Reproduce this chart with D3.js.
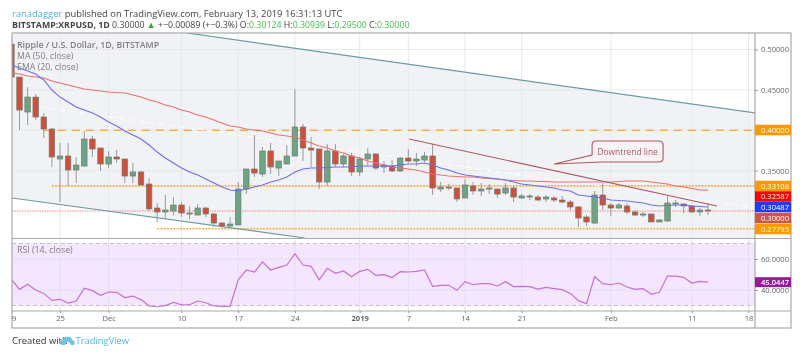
<!DOCTYPE html>
<html>
<head>
<meta charset="utf-8">
<script src="https://cdn.jsdelivr.net/npm/d3@7/dist/d3.min.js"></script>
<style>
html,body{margin:0;padding:0;background:#fff;}
svg{display:block;font-family:"Open Sans",sans-serif;filter:blur(0.3px);}
</style>
</head>
<body>
<div id="Canvas"></div>
<script>
// daily candles, Nov 19 2018 = day 0
let opens = [.5067,.4659,.4226,.4411,.4164,.4015,.3644,.3681,.3508,.3557,.3891,.3780,.3582,.3669,.3644,.3433,.3483,.3334,.3037,.2988,.3000,.3074,.2975,.2950,.3037,.2963,.2851,.2814,.2827,.3272,.3520,.3458,.3743,.3532,.3582,.3681,.4040,.3780,.3768,.3359,.3743,.3582,.3681,.3483,.3644,.3706,.3545,.3557,.3495,.3656,.3619,.3631,.3681,.3272,.3297,.3285,.3161,.3310,.3248,.3272,.3272,.3223,.3285,.3161,.3173,.3173,.3149,.3161,.3136,.3111,.3050,.2926,.2851,.3198,.3074,.3037,.3062,.2988,.2950,.2963,.2864,.2876,.3087,.3087,.3062,.2988,.30124]
let highs = [.5067,.4659,.4535,.4448,.4213,.4028,.3842,.3842,.3669,.3990,.3929,.3780,.3743,.3755,.3644,.3594,.3495,.3409,.3099,.3198,.3173,.3111,.3062,.3087,.3050,.2975,.2864,.2926,.3359,.3520,.3941,.3792,.3842,.3619,.3817,.4510,.4077,.3916,.3768,.3829,.3829,.3706,.3718,.3669,.3780,.3718,.3619,.3631,.3669,.3768,.3718,.3730,.3829,.3359,.3334,.3285,.3396,.3359,.3347,.3334,.3272,.3347,.3310,.3210,.3210,.3198,.3198,.3186,.3186,.3136,.3062,.2950,.3248,.3347,.3099,.3099,.3099,.3012,.2988,.2963,.2901,.3186,.3136,.3087,.3074,.3037,.30939]
let lows = [.4659,.4003,.4065,.4127,.3904,.3545,.3111,.3310,.3347,.3557,.3669,.3495,.3532,.3594,.3347,.3347,.3322,.3000,.2864,.2901,.2950,.2926,.2901,.2950,.2926,.2802,.2790,.2802,.2827,.3210,.3421,.3421,.3458,.3433,.3582,.3681,.3619,.3545,.3272,.3310,.3545,.3545,.3433,.3433,.3557,.3508,.3470,.3483,.3483,.3594,.3557,.3607,.3198,.3235,.3260,.3111,.3161,.3198,.3186,.3210,.3161,.3198,.3111,.3149,.3136,.3124,.3111,.3111,.3099,.3012,.2802,.2814,.2839,.3012,.2938,.3025,.2963,.2938,.2926,.2864,.2864,.2864,.3050,.2975,.2975,.2938,.29500]
let closes = [.4659,.4250,.4411,.4164,.4015,.3669,.3681,.3508,.3569,.3891,.3768,.3582,.3669,.3644,.3433,.3483,.3322,.3025,.2988,.3012,.3074,.2975,.2963,.3037,.2963,.2851,.2814,.2839,.3272,.3520,.3470,.3743,.3545,.3619,.3681,.4040,.3780,.3755,.3359,.3743,.3582,.3681,.3483,.3644,.3706,.3532,.3569,.3495,.3656,.3619,.3644,.3681,.3285,.3297,.3285,.3149,.3322,.3248,.3272,.3285,.3210,.3285,.3173,.3186,.3186,.3136,.3173,.3136,.3111,.3050,.2913,.2864,.3198,.3074,.3037,.3074,.2988,.2950,.2963,.2864,.2889,.3099,.3099,.3062,.2988,.3012,.30000]
let ma50 = [.4708,.4696,.4671,.4659,.4647,.4609,.4585,.4560,.4535,.4510,.4498,.4486,.4473,.4467,.4461,.4436,.4411,.4374,.4349,.4312,.4288,.4250,.4226,.4188,.4164,.4127,.4089,.4052,.4040,.4015,.4003,.3990,.3966,.3941,.3929,.3916,.3879,.3842,.3805,.3780,.3743,.3718,.3681,.3656,.3619,.3594,.3569,.3545,.3532,.3520,.3508,.3483,.3458,.3446,.3433,.3427,.3421,.3421,.3409,.3402,.3396,.3384,.3378,.3371,.3371,.3365,.3365,.3359,.3359,.3359,.3359,.3359,.3359,.3359,.3359,.3365,.3371,.3371,.3371,.3359,.3347,.3334,.3310,.3297,.3279,.3260,.32587]
let ema20 = [.4807,.4770,.4733,.4696,.4622,.4498,.4411,.4349,.4288,.4250,.4213,.4164,.4102,.4052,.3990,.3941,.3891,.3817,.3730,.3656,.3594,.3532,.3483,.3446,.3396,.3347,.3297,.3260,.3248,.3272,.3297,.3322,.3359,.3384,.3421,.3483,.3520,.3532,.3532,.3539,.3545,.3545,.3545,.3557,.3557,.3557,.3557,.3557,.3569,.3582,.3582,.3594,.3569,.3532,.3508,.3470,.3446,.3433,.3421,.3409,.3396,.3384,.3359,.3334,.3322,.3310,.3297,.3285,.3260,.3248,.3198,.3186,.3173,.3161,.3136,.3130,.3124,.3111,.3099,.3074,.3062,.3068,.3074,.3074,.3062,.3056,.30487]
let rsi = [46.9,40.4,43.7,40,37.8,33.3,34,31.6,32.9,41.1,39.6,36.6,38.7,38.5,35.1,36.1,33.8,29.7,29.2,29.9,32,30.5,30.5,32.9,31.8,29.7,29.5,29.5,46.5,52.9,51.6,58.1,52.9,54.6,56.1,63.4,56.1,55.3,46.5,54,50.8,52.3,48.6,52,53.3,49.5,49.9,48,51.8,51.6,52,52.9,42.4,43,43,39.8,45.4,43.4,44.1,44.1,42.6,45.4,42.2,42.4,42.2,40.6,41.7,40.9,40.2,37.8,33.1,31.2,48.6,44.1,43.4,44.5,41.9,40.4,40.9,37.2,38.5,49,49,48.2,44.5,45.6,45.0447]

let tickDays = [0,6,12,21,28,35,43,49,56,63,74,84,91]
let tickLabels = ["19","25","Dec","10","17","24","2019","7","14","21","Feb","11","18"]
let priceTicks = [.5,.45,.4,.35]
let rsiTicks = [60,40]
let rsiBand = [30,70]

// drawn levels and trend lines [day, price]
let level40 = .4, level331 = .33108, level278 = .27795, levelLast = .3
let channelTop = [[21.68,.5204],[91.9,.4213]]
let channelBottom = [[0.07,.3161],[36.2,.2666]]
let channelMid = [[3.5,.4288],[91.9,.3037]]
let downtrend = [[49.1,.3891],[87.1,.3062]]
let calloutTip = [67,.3582]

let tagTexts = ["0.40000","0.33108","0.32587","0.30487","0.30000","0.27795"]
let tagColors = ["#ff9800","#ff9800","#ff0000","#1e3cff","#cf5546","#ff9800"]
let tagRows = [130,186,196.5,207,218,229]

const L = 12, R = 755, END = 791, T = 33, B = 238.5, RT = 239.5, RB = 311, AB = 328

let svg = d3.select("#Canvas").append("svg").attr("width",800).attr("height",352)

let xScale = d3.scaleLinear().domain([0,91]).range([11.4,748.5])
let yScale = d3.scaleLinear().domain([.3,.5]).range([211,49.5])
let rsiScale = d3.scaleLinear().domain([40,60]).range([290,259])

svg.append("defs").append("clipPath").attr("id","mainClip")
    .append("rect").attr("x",L).attr("y",T).attr("width",R-L).attr("height",B-T)
svg.select("defs").append("clipPath").attr("id","rsiClip")
    .append("rect").attr("x",L).attr("y",RT).attr("width",R-L).attr("height",RB-RT)
svg.select("defs").append("clipPath").attr("id","timeClip")
    .append("rect").attr("x",L).attr("y",RB).attr("width",END-L).attr("height",AB-RB)

let main = svg.append("g").attr("clip-path","url(#mainClip)")
let lower = svg.append("g").attr("clip-path","url(#rsiClip)")

// channel fill, white outside of the channel
let pt = d=>[xScale(d[0]),yScale(d[1])]
let topA = pt(channelTop[0]), topB = pt(channelTop[1]), botA = pt(channelBottom[0]), botB = pt(channelBottom[1])
main.append("path")
    .attr("d",d3.line()([[L,T],topA,topB,[R,B],botB,botA]))
    .attr("fill","#f0f2f5")

// grid
main.selectAll(".vgrid").data(tickDays).enter().append("line")
    .attr("x1",d=>xScale(d)).attr("x2",d=>xScale(d)).attr("y1",T).attr("y2",B)
    .attr("stroke","#e6e8eb").attr("stroke-width",1)
main.selectAll(".hgrid").data(priceTicks).enter().append("line")
    .attr("x1",L).attr("x2",R).attr("y1",d=>yScale(d)).attr("y2",d=>yScale(d))
    .attr("stroke","#e6e8eb").attr("stroke-width",1)

// levels
let levelLine = (g,price,startDay,color,w,dash)=>g.append("line")
    .attr("x1",startDay==null?L:xScale(startDay)).attr("x2",R)
    .attr("y1",yScale(price)).attr("y2",yScale(price))
    .attr("stroke",color).attr("stroke-width",w).attr("stroke-dasharray",dash)
levelLine(main,levelLast,null,"#ee8a86",1,"1.5,1")
levelLine(main,level40,4,"#f9ae45",1.6,"8,6")
levelLine(main,level331,5,"#f9ae45",1.6,"2,1.2")
levelLine(main,level278,18,"#f9ae45",1.6,"2,1.2")

// channel lines
let trend = d3.line().x(d=>xScale(d[0])).y(d=>yScale(d[1]))
main.append("path").datum(channelMid).attr("d",trend).attr("fill","none")
    .attr("stroke","#fff").attr("stroke-width",1).attr("stroke-dasharray","6,4")
main.selectAll(".channel").data([channelTop,channelBottom]).enter().append("path")
    .attr("d",trend).attr("fill","none").attr("stroke","#6d9ba3").attr("stroke-width",1.2)

// candles
let days = d3.range(closes.length)
let upColor = "#6ba583", downColor = "#d04f3a"
main.selectAll(".wick").data(days).enter().append("line")
    .attr("x1",i=>xScale(i)).attr("x2",i=>xScale(i))
    .attr("y1",i=>yScale(highs[i])).attr("y2",i=>yScale(lows[i]))
    .attr("stroke","#999").attr("stroke-width",1)
main.selectAll(".body").data(days).enter().append("rect")
    .attr("x",i=>xScale(i)-2.75).attr("width",5.5)
    .attr("y",i=>yScale(Math.max(opens[i],closes[i])))
    .attr("height",i=>Math.max(1,Math.abs(yScale(opens[i])-yScale(closes[i]))))
    .attr("fill",i=>closes[i]>=opens[i]?upColor:downColor)
    .attr("stroke","#77796f").attr("stroke-width",.7)

// MA / EMA
let avgLine = d3.line().x((d,i)=>xScale(i)).y(d=>yScale(d))
main.append("path").attr("d",avgLine(ma50)).attr("fill","none").attr("stroke","#f26d6d").attr("stroke-width",1.1)
main.append("path").attr("d",avgLine(ema20)).attr("fill","none").attr("stroke","#6a6ff0").attr("stroke-width",1.1)

// downtrend line and callout
main.append("path").datum(downtrend).attr("d",trend).attr("fill","none").attr("stroke","#b0585e").attr("stroke-width",1.1)
let tip = pt(calloutTip)
let bx = tip[0]+38, by = tip[1]-23, bw = 71, bh = 21, r = 4
svg.append("path")
    .attr("d",`M${tip[0]},${tip[1]} L${bx},${by+14} L${bx},${by+r} Q${bx},${by} ${bx+r},${by} L${bx+bw-r},${by} Q${bx+bw},${by} ${bx+bw},${by+r} L${bx+bw},${by+bh-r} Q${bx+bw},${by+bh} ${bx+bw-r},${by+bh} L${bx+9},${by+bh} Z`)
    .attr("fill","#f5f3f5").attr("stroke","#b0585e").attr("stroke-width",1.1)
svg.append("text").attr("x",bx+bw/2).attr("y",by+13.5).attr("text-anchor","middle")
    .attr("font-size",8.4).attr("fill","#b0585e").text("Downtrend line")

// RSI pane
lower.append("rect").attr("x",L).attr("width",R-L)
    .attr("y",rsiScale(rsiBand[1])).attr("height",rsiScale(rsiBand[0])-rsiScale(rsiBand[1]))
    .attr("fill","#f4e6ff")
lower.selectAll(".vgrid").data(tickDays).enter().append("line")
    .attr("x1",d=>xScale(d)).attr("x2",d=>xScale(d)).attr("y1",RT).attr("y2",RB)
    .attr("stroke","#e6dcee")
lower.selectAll(".hgrid").data(rsiTicks).enter().append("line")
    .attr("x1",L).attr("x2",R).attr("y1",d=>rsiScale(d)).attr("y2",d=>rsiScale(d))
    .attr("stroke","#e9dcf5")
lower.selectAll(".band").data(rsiBand).enter().append("line")
    .attr("x1",L).attr("x2",R).attr("y1",d=>rsiScale(d)).attr("y2",d=>rsiScale(d))
    .attr("stroke","#c9bcd2").attr("stroke-dasharray","4,3")
lower.append("path")
    .attr("d",d3.line().x((d,i)=>xScale(i)).y(d=>rsiScale(d))(rsi))
    .attr("fill","none").attr("stroke","#c26fd8").attr("stroke-width",1.2)

// frame
let frameColor = "#a9a9a9"
svg.append("rect").attr("x",L).attr("y",T).attr("width",END-L).attr("height",AB-T)
    .attr("fill","none").attr("stroke",frameColor).attr("stroke-width",1.2)
svg.append("line").attr("x1",L).attr("x2",END).attr("y1",B).attr("y2",B).attr("stroke",frameColor).attr("stroke-width",1.2)
svg.append("line").attr("x1",L).attr("x2",END).attr("y1",RB).attr("y2",RB).attr("stroke",frameColor).attr("stroke-width",1.2)
svg.append("line").attr("x1",R).attr("x2",R).attr("y1",T).attr("y2",AB).attr("stroke",frameColor).attr("stroke-width",1.2)

// axes
let styleAxis = g=>{
    g.select(".domain").remove()
    g.selectAll("line").attr("stroke","#999")
    g.selectAll("text").attr("fill","#666").attr("font-size",7.6).attr("font-family",'"Open Sans",sans-serif')
}
svg.append("g").attr("transform",`translate(${R},0)`)
    .call(d3.axisRight(yScale).tickValues(priceTicks).tickFormat(d3.format(".5f")).tickSize(3).tickPadding(3))
    .call(styleAxis)
svg.append("g").attr("transform",`translate(${R},0)`)
    .call(d3.axisRight(rsiScale).tickValues(rsiTicks).tickFormat(d3.format(".4f")).tickSize(3).tickPadding(3))
    .call(styleAxis)
let timeAxis = svg.append("g").attr("clip-path","url(#timeClip)").append("g").attr("transform",`translate(0,${RB})`)
    .call(d3.axisBottom(xScale).tickValues(tickDays).tickFormat((d,i)=>tickLabels[i]).tickSize(2).tickPadding(3))
    .call(styleAxis)
timeAxis.selectAll("text").filter(d=>d==43).attr("font-weight",700)

// price tags
let tags = svg.selectAll(".tag").data(tagTexts).enter().append("g")
tags.append("rect").attr("x",R).attr("width",END-R).attr("height",10.5)
    .attr("y",(d,i)=>tagRows[i]-5.25).attr("fill",(d,i)=>tagColors[i])
tags.append("text").attr("x",R+6).attr("y",(d,i)=>tagRows[i]+2.7)
    .attr("font-size",7.6).attr("fill","#fff").text(d=>d)
svg.append("rect").attr("x",R).attr("width",END-R).attr("y",rsiScale(rsi[rsi.length-1])-5).attr("height",10).attr("fill","#981b9e")
svg.append("text").attr("x",R+6).attr("y",rsiScale(rsi[rsi.length-1])+2.7)
    .attr("font-size",7.6).attr("font-weight",600).attr("fill","#fff").text(d3.format(".4f")(rsi[rsi.length-1]))

// legends
let legend = (txt,y,w)=>svg.append("text").attr("x",17).attr("y",y).attr("font-size",8.8)
    .attr("font-weight",w||400).attr("fill","#808080").text(txt)
legend("Ripple / U.S. Dollar, 1D, BITSTAMP",47.5,600)
legend("MA (50, close)",58.5)
legend("EMA (20, close)",69.5)
legend("RSI (14, close)",253)

// header
let line1 = svg.append("text").attr("x",12).attr("y",17).attr("font-size",9.4).attr("fill","#444")
line1.append("tspan").attr("fill","#4fb4ea").text("ranadagger")
line1.append("tspan").text(" published on TradingView.com, February 13, 2019 16:31:13 UTC")
let line2 = svg.append("text").attr("x",12).attr("y",28).attr("font-size",8.8).attr("fill","#444")
line2.append("tspan").attr("font-weight",700).text("BITSTAMP:XRPUSD, 1D")
line2.append("tspan").text("  0.30000 ")
line2.append("tspan").attr("fill","#2eaa3c").text("▲")
line2.append("tspan").text(" +−0.00089 (+−0.3%) O:")
line2.append("tspan").attr("fill","#3fc04c").text("0.30124")
line2.append("tspan").text(" H:")
line2.append("tspan").attr("fill","#3fc04c").text("0.30939")
line2.append("tspan").text(" L:")
line2.append("tspan").attr("fill","#3fc04c").text("0.29500")
line2.append("tspan").text(" C:")
line2.append("tspan").attr("fill","#3fc04c").text("0.30000")

// footer
svg.append("text").attr("x",12).attr("y",344).attr("font-size",9.4).attr("fill","#333").text("Created with")
svg.append("path").attr("d","M61,345 Q59,340 63,340 Q64,336 68,337 Q71,336 72,340 Q76,341 74,345 L71,345 L68,341 L65,345 Z").attr("fill","#6cc3ee")
svg.append("text").attr("x",75.5).attr("y",344).attr("font-size",9.4).attr("fill","#56b6ea").text("TradingView")
</script>
</body>
</html>
